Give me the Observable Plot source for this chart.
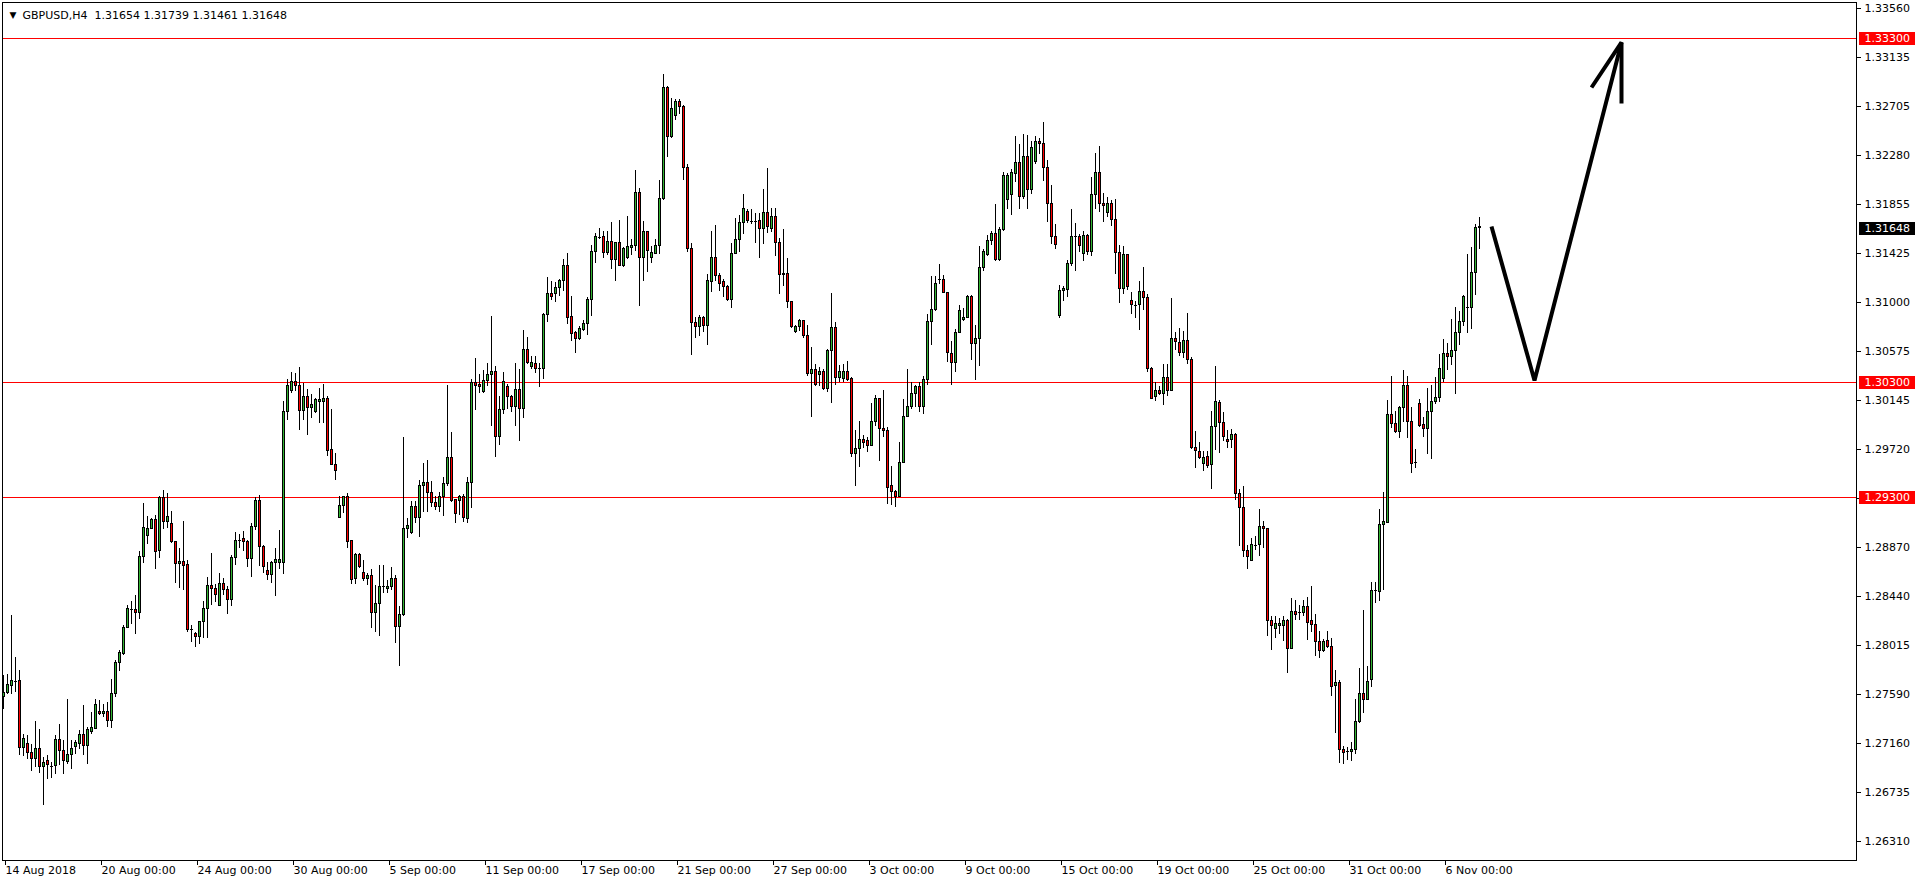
<!DOCTYPE html>
<html><head><meta charset="utf-8">
<script src="https://cdn.jsdelivr.net/npm/d3@7"></script>
<script src="https://cdn.jsdelivr.net/npm/@observablehq/plot@0.6"></script>
<style>html,body{margin:0;padding:0;background:#fff;overflow:hidden}#chart svg{display:block}</style>
</head><body><div id="chart"></div>
<script>
const opens = [1.27569,1.27604,1.27662,1.27703,1.27703,1.27125,1.27160,1.27082,1.27030,1.27117,1.26960,1.27004,1.26960,1.26966,1.27189,1.27096,1.27001,1.27059,1.27134,1.27154,1.27233,1.27140,1.27265,1.27291,1.27439,1.27415,1.27439,1.27357,1.27595,1.27865,1.27937,1.28169,1.28323,1.28320,1.28300,1.28787,1.28967,1.29031,1.29106,1.28836,1.29300,1.29089,1.29068,1.28918,1.28726,1.28744,1.28712,1.28149,1.28111,1.28091,1.28219,1.28335,1.28532,1.28504,1.28358,1.28553,1.28501,1.28408,1.28780,1.28929,1.28937,1.28917,1.28763,1.29042,1.29269,1.28873,1.28661,1.28626,1.28728,1.28728,1.28728,1.30046,1.30227,1.30305,1.30276,1.30052,1.30177,1.30081,1.30046,1.30131,1.30131,1.30160,1.29717,1.29583,1.29127,1.29228,1.29304,1.28923,1.28597,1.28806,1.28649,1.28597,1.28617,1.28300,1.28379,1.28524,1.28504,1.28524,1.28591,1.28175,1.28277,1.29025,1.28990,1.29217,1.29127,1.29403,1.29430,1.29343,1.29251,1.29222,1.29309,1.29416,1.29647,1.29277,1.29271,1.29309,1.29118,1.29430,1.30297,1.30283,1.30219,1.30314,1.30366,1.30392,1.29826,1.30066,1.30268,1.30176,1.30086,1.30236,1.30072,1.30583,1.30436,1.30465,1.30424,1.30424,1.30890,1.31077,1.31072,1.31129,1.31184,1.31314,1.30872,1.30731,1.30681,1.30765,1.30814,1.31020,1.31442,1.31569,1.31574,1.31433,1.31528,1.31372,1.31514,1.31317,1.31387,1.31476,1.31489,1.31953,1.31387,1.31614,1.31387,1.31422,1.31489,1.31901,1.32866,1.32437,1.32620,1.32745,1.32701,1.32170,1.31466,1.30822,1.30784,1.30866,1.30793,1.31176,1.31387,1.31228,1.31179,1.31135,1.31025,1.31422,1.31541,1.31692,1.31788,1.31706,1.31706,1.31712,1.31640,1.31779,1.31640,1.31747,1.31518,1.31248,1.31248,1.31005,1.30744,1.30787,1.30836,1.30706,1.30378,1.30410,1.30367,1.30396,1.30248,1.30581,1.30778,1.30343,1.30335,1.30396,1.30335,1.29682,1.29726,1.29801,1.29792,1.29755,1.29961,1.30161,1.29900,1.29879,1.29401,1.29352,1.29308,1.29604,1.30004,1.30091,1.30207,1.30262,1.30091,1.30329,1.30831,1.30938,1.31199,1.31199,1.31083,1.30552,1.30474,1.30735,1.30851,1.30865,1.31048,1.30639,1.30683,1.31300,1.31411,1.31538,1.31596,1.31367,1.31634,1.31895,1.31933,1.32121,1.32214,1.31915,1.32266,1.31976,1.32220,1.32397,1.32379,1.32170,1.31857,1.31571,1.30886,1.31097,1.31112,1.31339,1.31574,1.31574,1.31420,1.31580,1.31438,1.31937,1.32124,1.31861,1.31783,1.31861,1.31716,1.31435,1.31121,1.31414,1.31015,1.30973,1.30976,1.31088,1.31037,1.30417,1.30176,1.30227,1.30200,1.30342,1.30230,1.30680,1.30644,1.30559,1.30665,1.30499,1.29732,1.29699,1.29593,1.29656,1.29587,1.29913,1.30125,1.29949,1.29807,1.29807,1.29844,1.29330,1.29209,1.28838,1.28750,1.28886,1.28892,1.29043,1.29028,1.28230,1.28161,1.28183,1.28183,1.28230,1.27984,1.28309,1.28300,1.28293,1.28347,1.28224,1.28192,1.28041,1.27968,1.28050,1.28000,1.27662,1.27688,1.27104,1.27088,1.27085,1.27104,1.27347,1.27593,1.27542,1.27710,1.28489,1.28483,1.29066,1.29082,1.30022,1.29943,1.29871,1.30082,1.30271,1.29959,1.29603,1.30117,1.29934,1.29896,1.30051,1.30133,1.30171,1.30335,1.30549,1.30527,1.30574,1.30732,1.30827,1.30953,1.30953,1.31259,1.31654];
const highs = [1.27749,1.27763,1.28277,1.27908,1.27798,1.27241,1.27227,1.27154,1.27352,1.27279,1.27038,1.27053,1.26995,1.27227,1.27328,1.27183,1.27546,1.27183,1.27183,1.27270,1.27488,1.27299,1.27430,1.27540,1.27537,1.27502,1.27517,1.27720,1.27879,1.27972,1.28184,1.28358,1.28401,1.28445,1.28836,1.29251,1.29135,1.29118,1.29147,1.29315,1.29364,1.29335,1.29179,1.28923,1.28860,1.29097,1.28758,1.28184,1.28126,1.28227,1.28401,1.28604,1.28816,1.28545,1.28641,1.28597,1.28524,1.28801,1.28999,1.28984,1.29004,1.28932,1.29077,1.29301,1.29316,1.28888,1.28737,1.28742,1.28859,1.29019,1.30139,1.30328,1.30387,1.30381,1.30430,1.30299,1.30241,1.30197,1.30160,1.30250,1.30285,1.30183,1.30072,1.29682,1.29310,1.29310,1.29333,1.28932,1.28815,1.28815,1.28757,1.28641,1.28676,1.28539,1.28708,1.28708,1.28582,1.28693,1.28626,1.28350,1.29828,1.29121,1.29266,1.29266,1.29447,1.29595,1.29624,1.29439,1.29314,1.29343,1.29473,1.30274,1.29872,1.29286,1.29320,1.29329,1.29473,1.30326,1.30514,1.30375,1.30404,1.30470,1.30875,1.30442,1.30181,1.30392,1.30283,1.30187,1.30470,1.30413,1.30759,1.30696,1.30528,1.30534,1.30470,1.30904,1.31222,1.31187,1.31170,1.31202,1.31372,1.31424,1.31054,1.30745,1.30788,1.30846,1.31043,1.31496,1.31603,1.31641,1.31618,1.31618,1.31693,1.31525,1.31713,1.31482,1.31748,1.31546,1.32147,1.31991,1.31701,1.31619,1.31489,1.31547,1.32060,1.32982,1.32881,1.32779,1.32765,1.32765,1.32713,1.32199,1.31518,1.30866,1.30886,1.30874,1.31242,1.31614,1.31669,1.31251,1.31199,1.31147,1.31518,1.31730,1.31759,1.31938,1.31814,1.31808,1.31779,1.31779,1.31982,1.32170,1.31817,1.31822,1.31556,1.31634,1.31387,1.31010,1.30799,1.30851,1.30845,1.30799,1.30604,1.30459,1.30430,1.30416,1.30590,1.31077,1.30822,1.30454,1.30459,1.30483,1.30349,1.29885,1.29961,1.29842,1.29821,1.30120,1.30190,1.30161,1.30233,1.29908,1.29575,1.29363,1.29784,1.30155,1.30416,1.30300,1.30277,1.30300,1.30358,1.30894,1.31228,1.31228,1.31329,1.31234,1.31089,1.30657,1.30764,1.30973,1.30944,1.31060,1.31060,1.30799,1.31489,1.31460,1.31582,1.31619,1.31851,1.31657,1.32133,1.32127,1.32162,1.32446,1.32373,1.32460,1.32452,1.32402,1.32446,1.32431,1.32571,1.32234,1.32017,1.31677,1.31151,1.31142,1.31363,1.31813,1.31692,1.31595,1.31622,1.31595,1.32088,1.32299,1.32359,1.31949,1.31918,1.31888,1.31897,1.31496,1.31484,1.31414,1.31088,1.31012,1.31179,1.31308,1.31073,1.30433,1.30306,1.30266,1.30463,1.30463,1.31037,1.30741,1.30771,1.30750,1.30901,1.30517,1.29874,1.29777,1.29702,1.29702,1.30049,1.30439,1.30146,1.30040,1.29883,1.29895,1.29859,1.29376,1.29397,1.28886,1.28947,1.28959,1.29194,1.29095,1.29035,1.28268,1.28262,1.28246,1.28262,1.28237,1.28420,1.28404,1.28363,1.28404,1.28435,1.28530,1.28287,1.28136,1.28066,1.28136,1.28072,1.27795,1.27710,1.27135,1.27126,1.27173,1.27542,1.27811,1.28315,1.27830,1.28561,1.28561,1.29199,1.29350,1.30145,1.30354,1.30054,1.30098,1.30407,1.30360,1.30082,1.29719,1.30155,1.30003,1.30249,1.30275,1.30350,1.30549,1.30675,1.30644,1.30849,1.30959,1.30918,1.31063,1.31417,1.31480,1.31679,1.31739];
const lows = [1.27459,1.27589,1.27589,1.27604,1.27053,1.27047,1.27024,1.26917,1.26951,1.26899,1.26618,1.26850,1.26859,1.26893,1.26966,1.26893,1.26980,1.26937,1.27067,1.27111,1.27053,1.26975,1.27241,1.27285,1.27401,1.27386,1.27299,1.27291,1.27560,1.27784,1.27929,1.28164,1.28193,1.28111,1.28236,1.28729,1.28894,1.29025,1.28677,1.28773,1.29025,1.29031,1.28903,1.28555,1.28512,1.28494,1.28126,1.28039,1.27995,1.28019,1.28074,1.28074,1.28364,1.28385,1.28350,1.28451,1.28283,1.28355,1.28708,1.28859,1.28830,1.28693,1.28606,1.29019,1.28705,1.28641,1.28582,1.28553,1.28437,1.28676,1.28632,1.29973,1.30212,1.30221,1.29886,1.29973,1.29842,1.29994,1.30037,1.29950,1.29950,1.29659,1.29578,1.29450,1.29118,1.29164,1.28859,1.28545,1.28545,1.28684,1.28568,1.28539,1.28166,1.28131,1.28088,1.28466,1.28466,1.28495,1.28029,1.27835,1.28262,1.28946,1.28984,1.29077,1.28955,1.29173,1.29170,1.29213,1.29193,1.29176,1.29135,1.29401,1.29257,1.29078,1.29147,1.29083,1.29075,1.29205,1.30060,1.30210,1.30210,1.30268,1.29921,1.29647,1.29757,1.30023,1.30072,1.30043,1.29921,1.29791,1.29988,1.30456,1.30413,1.30378,1.30262,1.30326,1.30823,1.31020,1.30996,1.31048,1.31098,1.30812,1.30658,1.30557,1.30673,1.30745,1.30716,1.30881,1.31337,1.31546,1.31387,1.31410,1.31288,1.31179,1.31317,1.31309,1.31375,1.31410,1.31445,1.30967,1.31184,1.31257,1.31344,1.31416,1.31416,1.31889,1.32263,1.32431,1.32585,1.32634,1.32063,1.31437,1.30541,1.30683,1.30706,1.30735,1.30628,1.31089,1.31179,1.31097,1.31045,1.31010,1.30944,1.31416,1.31437,1.31596,1.31686,1.31677,1.31518,1.31379,1.31509,1.31605,1.31611,1.31402,1.31074,1.31141,1.30952,1.30778,1.30726,1.30744,1.30691,1.30352,1.29996,1.30271,1.30271,1.30233,1.30219,1.30120,1.30280,1.30300,1.30300,1.30314,1.29648,1.29401,1.29566,1.29726,1.29691,1.29749,1.29923,1.29618,1.29827,1.29241,1.29233,1.29218,1.29299,1.29598,1.29995,1.30068,1.30082,1.30039,1.30024,1.30280,1.30628,1.30923,1.31155,1.31077,1.30474,1.30277,1.30393,1.30729,1.30836,1.30859,1.30497,1.30323,1.30445,1.31271,1.31402,1.31495,1.31358,1.31358,1.31619,1.31808,1.31756,1.32046,1.31814,1.31895,1.31814,1.31938,1.32205,1.32292,1.32054,1.31698,1.31503,1.31465,1.30861,1.31012,1.31043,1.31314,1.31269,1.31438,1.31354,1.31405,1.31399,1.31813,1.31786,1.31695,1.31737,1.31665,1.31242,1.30991,1.31073,1.31103,1.30895,1.30861,1.30756,1.30931,1.30387,1.30155,1.30137,1.30191,1.30106,1.30185,1.30221,1.30584,1.30529,1.30514,1.30463,1.29723,1.29557,1.29632,1.29527,1.29551,1.29370,1.29714,1.29687,1.29792,1.29732,1.29732,1.29279,1.28877,1.28778,1.28672,1.28750,1.28838,1.28787,1.28862,1.28088,1.27971,1.28072,1.28110,1.28047,1.27773,1.27978,1.28230,1.28230,1.28268,1.28057,1.28126,1.27921,1.27905,1.27953,1.27987,1.27568,1.27252,1.26984,1.26975,1.27016,1.27006,1.27069,1.27331,1.27426,1.27542,1.27647,1.28382,1.28394,1.28489,1.29073,1.29902,1.29861,1.29817,1.29959,1.29817,1.29514,1.29555,1.29909,1.29823,1.29681,1.29634,1.30114,1.30133,1.30303,1.30407,1.30454,1.30202,1.30622,1.30792,1.30729,1.30764,1.31060,1.31461];
const closes = [1.27604,1.27668,1.27703,1.27703,1.27125,1.27198,1.27082,1.27030,1.27117,1.26960,1.26995,1.26975,1.26960,1.27189,1.27096,1.27004,1.27059,1.27117,1.27163,1.27233,1.27140,1.27276,1.27294,1.27494,1.27415,1.27439,1.27357,1.27595,1.27865,1.27952,1.28169,1.28329,1.28323,1.28300,1.28787,1.29039,1.29031,1.29106,1.28828,1.29300,1.29089,1.29135,1.28915,1.28726,1.28744,1.28706,1.28149,1.28149,1.28091,1.28222,1.28335,1.28532,1.28509,1.28457,1.28553,1.28495,1.28408,1.28780,1.28926,1.28929,1.28917,1.28763,1.29042,1.29269,1.28873,1.28699,1.28626,1.28728,1.28754,1.28754,1.30046,1.30276,1.30305,1.30276,1.30052,1.30177,1.30081,1.30110,1.30151,1.30151,1.30160,1.29711,1.29581,1.29537,1.29228,1.29304,1.28917,1.28588,1.28806,1.28699,1.28597,1.28617,1.28300,1.28379,1.28524,1.28524,1.28524,1.28591,1.28175,1.28283,1.29025,1.29054,1.29217,1.29127,1.29403,1.29426,1.29343,1.29257,1.29222,1.29309,1.29416,1.29647,1.29271,1.29156,1.29309,1.29127,1.29430,1.30297,1.30277,1.30262,1.30314,1.30366,1.30392,1.29826,1.30066,1.30306,1.30176,1.30086,1.30236,1.30072,1.30583,1.30470,1.30476,1.30418,1.30424,1.30890,1.31077,1.31048,1.31129,1.31184,1.31314,1.30866,1.30722,1.30679,1.30768,1.30817,1.31020,1.31442,1.31574,1.31569,1.31433,1.31528,1.31372,1.31514,1.31317,1.31470,1.31479,1.31488,1.31953,1.31387,1.31614,1.31445,1.31431,1.31489,1.31901,1.32866,1.32437,1.32684,1.32745,1.32701,1.32170,1.31466,1.30822,1.30784,1.30866,1.30793,1.31190,1.31387,1.31228,1.31161,1.31132,1.31025,1.31422,1.31547,1.31692,1.31814,1.31706,1.31706,1.31706,1.31640,1.31779,1.31657,1.31747,1.31518,1.31240,1.31237,1.31005,1.30784,1.30787,1.30836,1.30706,1.30378,1.30410,1.30285,1.30396,1.30248,1.30581,1.30778,1.30343,1.30393,1.30396,1.30329,1.29682,1.29726,1.29801,1.29778,1.29755,1.29961,1.30161,1.29900,1.29879,1.29386,1.29352,1.29308,1.29604,1.30004,1.30091,1.30207,1.30262,1.30091,1.30329,1.30831,1.30938,1.31164,1.31199,1.31083,1.30561,1.30474,1.30735,1.30929,1.30865,1.31048,1.30639,1.30683,1.31300,1.31437,1.31538,1.31596,1.31367,1.31634,1.32104,1.32104,1.32127,1.32214,1.31915,1.32266,1.31976,1.32344,1.32397,1.32379,1.32170,1.31857,1.31567,1.31505,1.31097,1.31118,1.31333,1.31574,1.31574,1.31496,1.31580,1.31438,1.31937,1.32124,1.31861,1.31843,1.31861,1.31716,1.31435,1.31121,1.31414,1.31133,1.30976,1.30973,1.31088,1.31037,1.30417,1.30161,1.30227,1.30200,1.30342,1.30230,1.30680,1.30653,1.30559,1.30665,1.30499,1.29729,1.29708,1.29647,1.29647,1.29578,1.29919,1.30137,1.29949,1.29829,1.29783,1.29844,1.29330,1.29209,1.28838,1.28787,1.28886,1.28886,1.29043,1.29028,1.28230,1.28183,1.28199,1.28199,1.28230,1.27984,1.28309,1.28278,1.28300,1.28347,1.28214,1.28192,1.28041,1.27968,1.28047,1.28000,1.27653,1.27688,1.27104,1.27079,1.27088,1.27104,1.27347,1.27593,1.27536,1.27694,1.28489,1.28489,1.29066,1.29092,1.30022,1.29940,1.29871,1.30085,1.30271,1.29959,1.29596,1.29603,1.29928,1.29896,1.30051,1.30133,1.30171,1.30423,1.30549,1.30527,1.30581,1.30732,1.30827,1.31048,1.30953,1.31259,1.31653,1.31648];

const xTickBars = [0,24,48,72,96,120,144,168,192,216,240,264,288,312,336,360];
const xTickLabels = ["14 Aug 2018","20 Aug 00:00","24 Aug 00:00","30 Aug 00:00","5 Sep 00:00","11 Sep 00:00","17 Sep 00:00","21 Sep 00:00","27 Sep 00:00","3 Oct 00:00","9 Oct 00:00","15 Oct 00:00","19 Oct 00:00","25 Oct 00:00","31 Oct 00:00","6 Nov 00:00"];
const yTicks = [1.33560,1.33135,1.32705,1.32280,1.31855,1.31425,1.31000,1.30575,1.30145,1.29720,1.29295,1.28870,1.28440,1.28015,1.27590,1.27160,1.26735,1.26310];
const levels = [1.33300,1.30300,1.29300];
const lastPrice = [1.31648];
const symbolName = "GBPUSD,H4";
const lastBarValues = [1.31654,1.31739,1.31461,1.31648];
const arrowPath = [[372,1.31662],[382.75,1.30321],[404.5,1.33264]];
const arrowHead = [[397,1.32872],[404.5,1.33264],[404.5,1.32733]];

const GREEN = "#32b432", RED = "#ff0000";
const FONT = "DejaVu Sans";
const CRISP = "crispEdges";
const bars = opens.map((o, i) => ({i, o, h: highs[i], l: lows[i], c: closes[i]}));
const fmt5 = d3.format(".5f");
const boxSymbol = {draw(ctx) { ctx.moveTo(2, -6.5); ctx.lineTo(58, -6.5); ctx.lineTo(58, 6.5); ctx.lineTo(2, 6.5); ctx.closePath(); }};

const chart = Plot.plot({
  width: 1916, height: 884,
  marginLeft: 2, marginRight: 60, marginTop: 2, marginBottom: 24,
  style: {fontFamily: FONT, fontSize: "11px", background: "#fff", overflow: "visible", color: "#000"},
  x: {domain: [-0.25, 463.25]},
  y: {domain: [1.26142, 1.33612]},
  color: {type: "identity"},
  marks: [
    Plot.axisY({anchor: "right", ticks: yTicks, tickSize: 4, tickPadding: 4, tickFormat: fmt5, label: null, fontSize: 11, fill: "#000", stroke: "#000", shapeRendering: CRISP}),
    Plot.axisX({anchor: "bottom", ticks: xTickBars, tickSize: 5, tickPadding: 1, tickFormat: d => xTickLabels[xTickBars.indexOf(d)], textAnchor: "start", dx: 2, label: null, fontSize: 11, fill: "#000", stroke: "#000", shapeRendering: CRISP}),
    Plot.ruleY(levels, {y: d => d, stroke: RED, strokeWidth: 1, shapeRendering: CRISP}),
    Plot.ruleX(bars, {x: "i", y1: "l", y2: "h", stroke: "#000", strokeWidth: 1, shapeRendering: CRISP}),
    Plot.rect(bars, {x1: d => d.i - 0.25, x2: d => d.i + 0.25, y1: "o", y2: "c", fill: d => d.c >= d.o ? GREEN : RED, stroke: "#000", strokeWidth: 1, shapeRendering: CRISP}),
    Plot.ruleY(bars.filter(d => Math.abs(d.c - d.o) < 0.00004), {y: "c", x1: d => d.i - 0.375, x2: d => d.i + 0.375, stroke: "#000", strokeWidth: 1, shapeRendering: CRISP}),
    Plot.line(arrowPath, {x: d => d[0], y: d => d[1], stroke: "#000", strokeWidth: 4, strokeLinejoin: "miter", strokeLinecap: "butt"}),
    Plot.line(arrowHead, {x: d => d[0], y: d => d[1], stroke: "#000", strokeWidth: 4, strokeLinejoin: "miter", strokeLinecap: "butt"}),
    Plot.frame({stroke: "#000", shapeRendering: CRISP}),
    Plot.dot(levels, {y: d => d, frameAnchor: "right", symbol: boxSymbol, fill: RED, r: 5, shapeRendering: CRISP}),
    Plot.dot(lastPrice, {y: d => d, frameAnchor: "right", symbol: boxSymbol, fill: "#000", r: 5, shapeRendering: CRISP}),
    Plot.text(levels.concat(lastPrice), {y: d => d, text: d => fmt5(d), frameAnchor: "right", textAnchor: "start", dx: 8, fill: "#fff", fontSize: 11}),
    Plot.text(["\u25BC"], {frameAnchor: "top-left", dx: 7, dy: 9, fontSize: 9, fill: "#000"}),
    Plot.text([symbolName + "\u00a0\u00a0" + lastBarValues.map(fmt5).join(" ")], {frameAnchor: "top-left", textAnchor: "start", dx: 20, dy: 9, fontSize: 11, fill: "#000"})
  ]
});
document.getElementById("chart").appendChild(chart);
</script>
</body></html>
